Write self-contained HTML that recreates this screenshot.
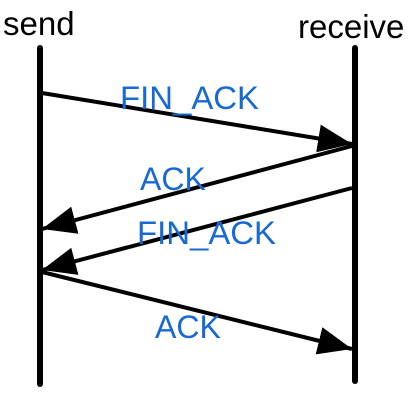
<!DOCTYPE html>
<html><head><style>
html,body{margin:0;padding:0;background:#fff;width:411px;height:405px;overflow:hidden}
svg{display:block}
text{font-family:"Liberation Sans",sans-serif}
</style></head><body>
<svg width="411" height="405" viewBox="0 0 411 405">
<defs>
<marker id="a" markerUnits="userSpaceOnUse" markerWidth="36" markerHeight="28" refX="34" refY="14" orient="auto">
<path d="M0,0 L34,14 L0,28 Z" fill="#000"/>
</marker>
</defs>
<line x1="40" y1="48" x2="40" y2="384" stroke="#000" stroke-width="6" stroke-linecap="round"/>
<line x1="355" y1="48" x2="355" y2="381" stroke="#000" stroke-width="6" stroke-linecap="round"/>
<g stroke="#000" stroke-width="4" fill="none">
<line x1="42" y1="93" x2="352" y2="144" marker-end="url(#a)"/>
<line x1="352" y1="146" x2="42" y2="229" marker-end="url(#a)"/>
<line x1="352" y1="188" x2="42" y2="270" marker-end="url(#a)"/>
<line x1="42" y1="272" x2="352" y2="349" marker-end="url(#a)"/>
</g>
<text x="3" y="35" font-size="33" fill="#000">send</text>
<text x="298" y="38" font-size="33" fill="#000">receive</text>
<g fill="#1769d6" font-size="32">
<text x="120" y="109" textLength="139" lengthAdjust="spacingAndGlyphs">FIN_ACK</text>
<text x="140" y="190">ACK</text>
<text x="137" y="244" textLength="139" lengthAdjust="spacingAndGlyphs">FIN_ACK</text>
<text x="155" y="338">ACK</text>
</g>
</svg>
</body></html>
